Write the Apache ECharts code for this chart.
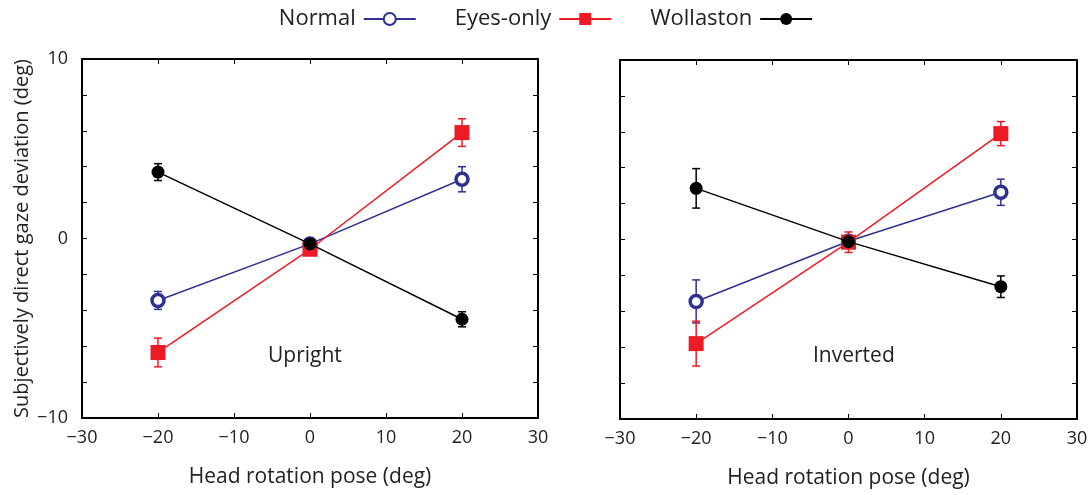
<!DOCTYPE html>
<html>
<head>
<meta charset="utf-8">
<script src="https://cdn.jsdelivr.net/npm/echarts@6/dist/echarts.min.js"></script>
<style>
  html, body { margin: 0; padding: 0; background: #fff; }
  #chart { width: 1092px; height: 495px; }
</style>
</head>
<body>
<div id="chart"></div>
<script>
// ---- data ----
var headPose = [-20, 0, 20];

var uprightNormal = [-3.45, -0.3, 3.3];
var uprightNormalErr = [0.5, 0.2, 0.7];
var uprightEyes = [-6.35, -0.6, 5.9];
var uprightEyesErr = [0.8, 0.2, 0.77];
var uprightWoll = [3.7, -0.3, -4.5];
var uprightWollErr = [0.47, 0.2, 0.42];

var invertedNormal = [-3.45, -0.1, 2.63];
var invertedNormalErr = [1.2, 0.3, 0.73];
var invertedEyes = [-5.8, -0.15, 5.9];
var invertedEyesErr = [1.25, 0.57, 0.67];
var invertedWoll = [2.85, -0.12, -2.63];
var invertedWollErr = [1.1, 0.3, 0.6];

var yTickLabels = [-10, 0, 10];

var BLUE = '#2e3192', RED = '#ed1c24', BLACK = '#000000';
var FONT = 'Open Sans';

// ---- helpers ----
function pairs(ys) {
    return headPose.map(function (x, i) { return [x, ys[i]]; });
}
function errData(ys, es) {
    return headPose.map(function (x, i) { return [x, ys[i] - es[i], ys[i] + es[i]]; });
}
function minus(v) { return String(v).replace('-', '\u2212'); }

function errSeries(ys, es, color, xi, yi) {
    return {
        type: 'custom',
        xAxisIndex: xi,
        yAxisIndex: yi,
        silent: true,
        z: 1,
        data: errData(ys, es),
        renderItem: function (params, api) {
            var lo = api.coord([api.value(0), api.value(1)]);
            var hi = api.coord([api.value(0), api.value(2)]);
            var w = 4;
            var st = { stroke: color, lineWidth: 1.5 };
            return {
                type: 'group',
                children: [
                    { type: 'line', shape: { x1: lo[0], y1: lo[1], x2: hi[0], y2: hi[1] }, style: st },
                    { type: 'line', shape: { x1: lo[0] - w, y1: lo[1], x2: lo[0] + w, y2: lo[1] }, style: st },
                    { type: 'line', shape: { x1: hi[0] - w, y1: hi[1], x2: hi[0] + w, y2: hi[1] }, style: st }
                ]
            };
        }
    };
}

function lineSeries(name, ys, color, kind, xi, yi) {
    var s = {
        name: name,
        type: 'line',
        xAxisIndex: xi,
        yAxisIndex: yi,
        data: pairs(ys),
        z: 3,
        lineStyle: { color: color, width: 1.5 },
        emphasis: { disabled: true }
    };
    if (kind === 'open') {
        s.symbol = 'circle';
        s.symbolSize = 12;
        s.itemStyle = { color: '#fff', borderColor: color, borderWidth: 3.5 };
    } else if (kind === 'square') {
        s.symbol = 'rect';
        s.symbolSize = 15;
        s.itemStyle = { color: color, borderWidth: 0 };
    } else {
        s.symbol = 'circle';
        s.symbolSize = 13;
        s.itemStyle = { color: color, borderWidth: 0 };
        s.z = 4;
    }
    return s;
}

function xAx(gi, pos, withLabels) {
    return {
        type: 'value',
        gridIndex: gi,
        position: pos,
        min: -30, max: 30, interval: 10,
        axisLine: { show: true, onZero: false, lineStyle: { color: '#000', width: 2 } },
        axisTick: { show: true, inside: true, length: 5, lineStyle: { color: '#000', width: 1 } },
        axisLabel: withLabels ? {
            show: true, margin: 11, fontSize: 18, fontFamily: FONT, color: '#222',
            formatter: function (v) { return minus(v); }
        } : { show: false },
        splitLine: { show: false },
        name: withLabels ? 'Head rotation pose (deg)' : '',
        nameLocation: 'middle',
        nameGap: 49,
        nameTextStyle: { fontSize: 21, fontFamily: FONT, color: '#222' }
    };
}

function yAx(gi, pos, withLabels, named) {
    return {
        type: 'value',
        gridIndex: gi,
        position: pos,
        min: -10, max: 10, interval: 2,
        axisLine: { show: true, onZero: false, lineStyle: { color: '#000', width: 2 } },
        axisTick: { show: true, inside: true, length: 5, lineStyle: { color: '#000', width: 1 } },
        axisLabel: withLabels ? {
            show: true, margin: 14, fontSize: 18, fontFamily: FONT, color: '#222',
            formatter: function (v) { return yTickLabels.indexOf(v) >= 0 ? minus(v) : ''; }
        } : { show: false },
        splitLine: { show: false },
        name: named ? 'Subjectively direct gaze deviation (deg)' : '',
        nameLocation: 'middle',
        nameGap: 50,
        nameTextStyle: { fontSize: 20, fontFamily: FONT, color: '#222' }
    };
}

var chart = echarts.init(document.getElementById('chart'));

var option = {
    animation: false,
    backgroundColor: '#fff',
    legend: {
        top: 3,
        left: 'center',
        align: 'right',
        itemWidth: 52,
        itemHeight: 15,
        itemGap: 38,
        textStyle: { fontSize: 22, fontFamily: FONT, color: '#222', padding: [0, 3, 0, 0] },
        data: ['Normal', 'Eyes-only', 'Wollaston']
    },
    grid: [
        { left: 82, top: 59, width: 456, height: 359 },
        { left: 620, top: 60, width: 457, height: 359 }
    ],
    xAxis: [
        xAx(0, 'bottom', true), xAx(0, 'top', false),
        xAx(1, 'bottom', true), xAx(1, 'top', false)
    ],
    yAxis: [
        yAx(0, 'left', true, true), yAx(0, 'right', false, false),
        yAx(1, 'left', false, false), yAx(1, 'right', false, false)
    ],
    graphic: [
        { type: 'text', left: 268, top: 346, style: { text: 'Upright', fontSize: 21, fontFamily: FONT, fill: '#222' } },
        { type: 'text', left: 813, top: 346, style: { text: 'Inverted', fontSize: 21, fontFamily: FONT, fill: '#222' } }
    ],
    series: [
        errSeries(uprightNormal, uprightNormalErr, BLUE, 0, 0),
        errSeries(uprightEyes, uprightEyesErr, RED, 0, 0),
        errSeries(uprightWoll, uprightWollErr, BLACK, 0, 0),
        lineSeries('Normal', uprightNormal, BLUE, 'open', 0, 0),
        lineSeries('Eyes-only', uprightEyes, RED, 'square', 0, 0),
        lineSeries('Wollaston', uprightWoll, BLACK, 'dot', 0, 0),

        errSeries(invertedNormal, invertedNormalErr, BLUE, 2, 2),
        errSeries(invertedEyes, invertedEyesErr, RED, 2, 2),
        errSeries(invertedWoll, invertedWollErr, BLACK, 2, 2),
        lineSeries('Normal', invertedNormal, BLUE, 'open', 2, 2),
        lineSeries('Eyes-only', invertedEyes, RED, 'square', 2, 2),
        lineSeries('Wollaston', invertedWoll, BLACK, 'dot', 2, 2)
    ]
};

chart.setOption(option);
</script>
</body>
</html>
